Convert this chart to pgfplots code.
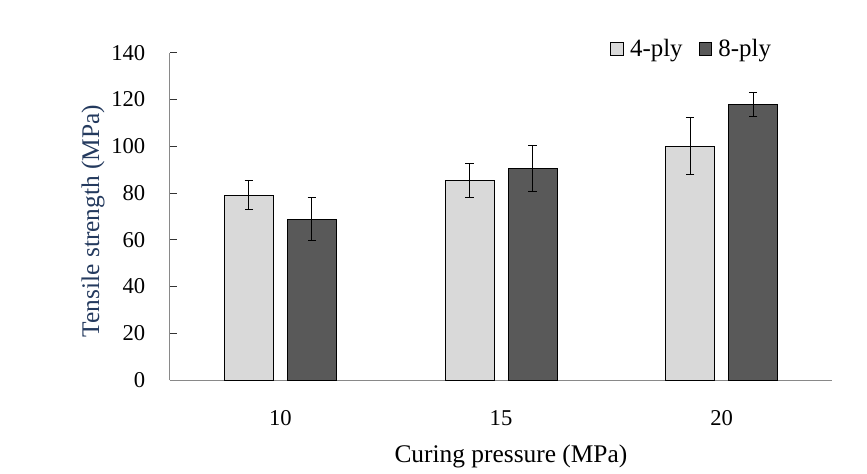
\documentclass[border=0pt]{standalone}
\usepackage{pgfplots}
\pgfplotsset{compat=1.18}
\usepackage{fontspec}
\setmainfont{Liberation Serif}
\definecolor{lightbar}{HTML}{D9D9D9}
\definecolor{darkbar}{HTML}{595959}
\definecolor{axgray}{HTML}{898989}
\definecolor{ylab}{HTML}{243A5E}
\begin{document}
\begin{tikzpicture}
\useasboundingbox (-170bp,-94bp) rectangle (697bp,380bp);
\begin{axis}[
  at={(0,0)}, anchor=south west, scale only axis,
  width=662bp, height=327.3bp,
  xmin=-0.5, xmax=2.5, ymin=0, ymax=140,
  axis x line*=bottom, axis y line*=left,
  axis line style={axgray, line width=1bp},
  ytick={0,20,...,140},
  xtick={0,1,2}, xticklabels={10,15,20},
  x tick style={draw=none},
  y tick style={black!80, line width=0.8bp},
  tick align=inside, major tick length=7bp,
  /pgf/number format/assume math mode=true,
  yticklabel={\fontsize{22.7}{27}\selectfont\pgfmathprintnumber{\tick}},
  xticklabel style={font=\fontsize{22.7}{27}\selectfont},
  yticklabel style={anchor=east, inner sep=0pt, xshift=-24.5bp, text=black},
  xticklabel style={anchor=base, inner sep=0pt, yshift=-38bp, text=black},
  every axis y label/.style={at={(axis description cs:-0.1163,0.486)}, rotate=90, anchor=center},
  every axis x label/.style={at={(axis description cs:0.515,-0.2506)}, anchor=base},
  ylabel={Tensile strength (MPa)},
  xlabel={Curing pressure (MPa)},
  ylabel style={font=\fontsize{25.5}{30}\selectfont, text=ylab},
  xlabel style={font=\fontsize{25.5}{30}\selectfont},
  ybar, bar width=49bp,
  legend image code/.code={\draw[#1, line width=0.7bp] (0bp,-6.5bp) rectangle (12.5bp,6.5bp); \path (17bp,0bp);},
  legend columns=2,
  legend style={draw=none, fill=none, at={(0.788,1.011)}, anchor=center,
    font=\fontsize{25}{30}\selectfont,
    /tikz/every even column/.append style={column sep=14bp}},
]
\addplot[fill=lightbar, draw=black, line width=0.8bp, bar shift=-31.5bp,
  error bars/.cd, y dir=both, y explicit,
  error bar style={black, line width=1bp},
  error mark options={rotate=90, mark size=4.2bp, black, line width=1bp}]
  coordinates {(0,79.1) +- (0,6.3) (1,85.4) +- (0,7.3) (2,100.0) +- (0,12.2)};
\addplot[fill=darkbar, draw=black, line width=0.8bp, bar shift=31.5bp,
  error bars/.cd, y dir=both, y explicit,
  error bar style={black, line width=1bp},
  error mark options={rotate=90, mark size=4.2bp, black, line width=1bp}]
  coordinates {(0,68.7) +- (0,9.2) (1,90.5) +- (0,10.0) (2,117.9) +- (0,5.0)};
\legend{4-ply, 8-ply}
\end{axis}
\end{tikzpicture}
\end{document}
